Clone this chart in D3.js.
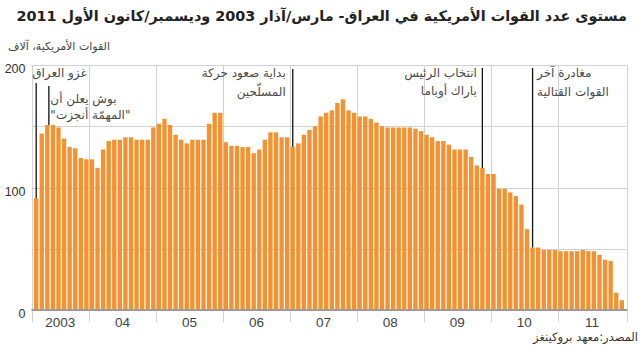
<!DOCTYPE html>
<html>
<head>
<meta charset="utf-8">
<script src="https://cdn.jsdelivr.net/npm/d3@7"></script>
<style>
    body { margin: 0; background: #fff; }
    svg text { font-family: "DejaVu Sans", sans-serif; }
    .num { font-family: "Liberation Sans", Arial, sans-serif; }
</style>
</head>
<body>
<svg id="chart" width="640" height="349"></svg>
<script>
// US troops in Iraq, thousands, one value per month (2003 starts in March)
const yearLabels = ["2003", "04", "05", "06", "07", "08", "09", "10", "11"];
const troops2003 = [91, 144, 151, 151, 149, 140, 133, 132, 124, 123];
const troops2004 = [123, 116, 131, 138, 139, 139, 141, 141, 139, 139, 139, 149];
const troops2005 = [152, 156, 151, 143, 139, 136, 139, 139, 139, 152, 161, 161];
const troops2006 = [137, 134, 134, 133, 133, 128, 131, 139, 145, 145, 141, 141];
const troops2007 = [133, 136, 143, 147, 150, 158, 161, 163, 169, 172, 163, 161];
const troops2008 = [158, 158, 156, 153, 150, 149, 149, 149, 149, 149, 148, 146];
const troops2009 = [143, 141, 138, 138, 135, 131, 131, 131, 125, 118, 116, 111];
const troops2010 = [111, 99, 99, 96, 93, 86, 66, 51, 51, 49, 49, 49];
const troops2011 = [48, 48, 48, 48, 49, 48, 48, 45, 41, 40, 14, 8];
const yTicks = [0, 100, 200];
const yGrid = [50, 100, 150, 200];

const eventMonths = ["2003-03", "2003-05", "2007-01", "2009-11", "2010-08"];
const eventLabels = [
    ["غزو العراق"],
    ["بوش يعلن أن", "\"المهمّة أنجزت\""],
    ["بداية صعود حركة", "المسلّحين"],
    ["انتخاب الرئيس", "باراك أوباما"],
    ["مغادرة آخر", "القوات القتالية"]
];

const TITLE = "مستوى عدد القوات الأمريكية في العراق- مارس/آذار 2003 وديسمبر/كانون الأول 2011";
const SUBTITLE = "القوات الأمريكية، آلاف";
const SOURCE = "المصدر:معهد بروكينغز";

// layout
const PLOT = { left: 31.5, right: 626.5, top: 65, bottom: 310 };
const BAR_COLOR = "#f5922f";
const GRID_COLOR = "#d2d2d2";
// per event: which side of the line the text sits, first baseline, line step, top of the line
const eventLayout = [
    { side: "left", dx: -4, y0: 77, step: 16, lineTop: 83, at: 0.5 },
    { side: "left", dx: 1.5, y0: 103, step: 16, lineTop: 86, at: 0.85 },
    { side: "right", dx: -7, y0: 77, step: 19, lineTop: 69, at: 0.5 },
    { side: "right", dx: -5.5, y0: 77, step: 18, lineTop: 68, at: 0.5 },
    { side: "left", dx: 4.5, y0: 77, step: 19, lineTop: 68, at: 0.5 }
];

const troopsByYear = [troops2003, troops2004, troops2005, troops2006, troops2007,
    troops2008, troops2009, troops2010, troops2011];

const rows = [];
troopsByYear.forEach((vals, yi) => {
    const startMonth = yi === 0 ? 3 : 1;
    vals.forEach((v, k) => {
        const m = startMonth + k;
        rows.push({ yi, key: `${2003 + yi}-${String(m).padStart(2, "0")}`, value: v });
    });
});

const svg = d3.select("#chart");

const x = d3.scaleBand()
    .domain(rows.map((d) => d.key))
    .range([PLOT.left, PLOT.right])
    .paddingInner(0.22)
    .paddingOuter(0.45);

const y = d3.scaleLinear().domain([0, 200]).range([PLOT.bottom, PLOT.top]);

// year boundaries
const halfGap = (x.step() * x.paddingInner()) / 2;
const bounds = yearLabels.map((_, yi) => {
    if (yi === 0) return PLOT.left;
    return x(`${2003 + yi}-01`) - halfGap;
});
bounds.push(PLOT.right);

// grid
svg.append("g")
    .selectAll("line")
    .data(yGrid)
    .join("line")
    .attr("x1", PLOT.left)
    .attr("x2", PLOT.right)
    .attr("y1", (d) => Math.round(y(d)) + 0.5)
    .attr("y2", (d) => Math.round(y(d)) + 0.5)
    .attr("stroke", GRID_COLOR);

svg.append("g")
    .selectAll("line")
    .data(bounds)
    .join("line")
    .attr("x1", (d) => Math.round(d) + 0.5)
    .attr("x2", (d) => Math.round(d) + 0.5)
    .attr("y1", PLOT.top)
    .attr("y2", PLOT.bottom + 12)
    .attr("stroke", GRID_COLOR);

// bars
svg.append("g")
    .selectAll("rect")
    .data(rows)
    .join("rect")
    .attr("x", (d) => x(d.key))
    .attr("y", (d) => y(d.value))
    .attr("width", x.bandwidth())
    .attr("height", (d) => y(0) - y(d.value))
    .attr("fill", BAR_COLOR);

// baseline
svg.append("line")
    .attr("x1", PLOT.left)
    .attr("x2", PLOT.right + 0.5)
    .attr("y1", y(0))
    .attr("y2", y(0))
    .attr("stroke", "#9a9a9a")
    .attr("stroke-width", 2);

// y labels
svg.append("g")
    .selectAll("text")
    .data(yTicks)
    .join("text")
    .attr("class", "num")
    .attr("x", 25.5)
    .attr("y", (d) => y(d) + 8)
    .attr("text-anchor", "end")
    .style("font-size", "12.5px")
    .attr("fill", "#333")
    .text((d) => d);

// x labels
svg.append("g")
    .selectAll("text")
    .data(yearLabels)
    .join("text")
    .attr("class", "num")
    .attr("x", (d, i) => (bounds[i] + bounds[i + 1]) / 2)
    .attr("y", 327)
    .attr("text-anchor", "middle")
    .style("font-size", "13.5px")
    .attr("fill", "#444")
    .text((d) => d);

// events
const byKey = new Map(rows.map((d) => [d.key, d]));
eventMonths.forEach((key, i) => {
    const lay = eventLayout[i];
    const lx = x(key) + x.bandwidth() * lay.at;
    svg.append("line")
        .attr("x1", lx)
        .attr("x2", lx)
        .attr("y1", lay.lineTop)
        .attr("y2", y(byKey.get(key).value))
        .attr("stroke", "#111")
        .attr("stroke-width", 1.3);
    eventLabels[i].forEach((txt, j) => {
        svg.append("text")
            .attr("x", lx + lay.dx)
            .attr("y", lay.y0 + j * lay.step)
            .attr("text-anchor", lay.side === "left" ? "start" : "end")
            .style("font-size", "12px")
            .attr("fill", "#4a4a4a")
            .text(txt);
    });
});

// title, subtitle, source
const title = svg.append("text")
    .attr("x", 627)
    .attr("y", 21)
    .attr("text-anchor", "end")
    .style("font-size", "17px")
    .style("font-weight", "bold")
    .attr("fill", "#222")
    .text(TITLE);
const tw = title.node().getComputedTextLength();
title.style("font-size", `${(17 * 611) / tw}px`);

svg.append("text")
    .attr("x", 8)
    .attr("y", 50)
    .attr("text-anchor", "start")
    .style("font-size", "11px")
    .attr("fill", "#444")
    .text(SUBTITLE);

svg.append("text")
    .attr("x", 638)
    .attr("y", 341)
    .attr("text-anchor", "end")
    .style("font-size", "11.5px")
    .attr("fill", "#333")
    .text(SOURCE);
</script>
</body>
</html>
